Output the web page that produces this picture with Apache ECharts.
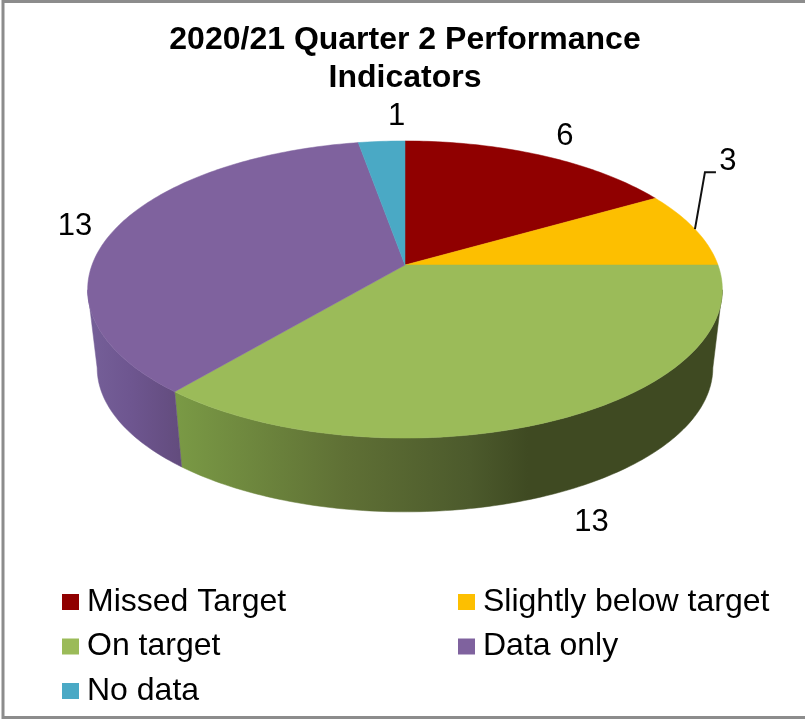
<!DOCTYPE html>
<html>
<head>
<meta charset="utf-8">
<style>
  html, body { margin: 0; padding: 0; background: #fff; }
  #main { width: 805px; height: 721px; }
</style>
<script src="https://cdn.jsdelivr.net/npm/echarts@6/dist/echarts.min.js"></script>
</head>
<body>
<div id="main"></div>
<script>
var categories = ['Missed Target', 'Slightly below target', 'On target', 'Data only', 'No data'];
var values = [6, 3, 13, 13, 1];
var colors = ['#900000', '#fdbf00', '#9bbb59', '#7f629e', '#4aa9c5'];
var titleText = '2020/21 Quarter 2 Performance\nIndicators';

var font = '"Liberation Sans", Arial, sans-serif';
var total = values.reduce(function (a, b) { return a + b; }, 0);

// pie geometry, fitted to the tilted perspective of the picture
var cx = 405, cy = 265, rx = 313, ry = 144.5, tilt = 0.165;
var wallScale = 0.97, wallY = 344;
var frontFrom = 99.6, frontTo = 260.4;

// where each value label sits relative to the middle of its rim arc
var labelOffsets = [[23, -19], [33, -68], [31, 103], [-40, -3], [15, -25]];
var leaderIndex = 1;

var wallFills = {
    2: [[175, '#7a9a45'], [345, '#5f7035'], [470, '#4c5a2c'], [528, '#3f4a22'], [720, '#3f4a22']],
    3: [[95, '#745e97'], [130, '#6e5690'], [179, '#634c7e']]
};

function rimPoint(deg, lower) {
    var t = deg * Math.PI / 180;
    var u = Math.sin(t), v = -Math.cos(t);
    var w = 1 - tilt * v;
    var dx = rx * u / w, dy = ry * v / w;
    if (lower) return [cx + wallScale * dx, wallY + wallScale * dy];
    return [cx + dx, cy + dy];
}

function arcPoints(from, to, lower) {
    var pts = [];
    for (var a = from; a < to; a += 1) pts.push(rimPoint(a, lower));
    pts.push(rimPoint(to, lower));
    return pts;
}

function wallGradient(index) {
    var stops = wallFills[index];
    if (!stops) return colors[index];
    var x0 = stops[0][0], x1 = stops[stops.length - 1][0];
    return {
        type: 'linear', global: true, x: x0, y: 0, x2: x1, y2: 0,
        colorStops: stops.map(function (s) {
            return { offset: (s[0] - x0) / (x1 - x0), color: s[1] };
        })
    };
}

function renderSlice(index, params, api) {
    var before = 0;
    for (var i = 0; i < index; i++) before += values[i];
    var start = before / total * 360;
    var end = (before + api.value(0)) / total * 360;
    var children = [];

    // side wall, only the part facing the viewer
    var wallFrom = Math.max(start, frontFrom), wallTo = Math.min(end, frontTo);
    if (wallTo > wallFrom) {
        var fill = wallGradient(index);
        children.push({
            type: 'polygon', z2: 1,
            shape: { points: arcPoints(wallFrom, wallTo, false).concat(arcPoints(wallFrom, wallTo, true).reverse()) },
            style: { fill: fill, stroke: fill, lineWidth: 0.5 }
        });
    }

    // top face
    children.push({
        type: 'polygon', z2: 2,
        shape: { points: [[cx, cy]].concat(arcPoints(start, end, false)) },
        style: { fill: colors[index], stroke: colors[index], lineWidth: 0.5 }
    });

    // value label
    var mid = rimPoint((start + end) / 2, false);
    var off = labelOffsets[index];
    children.push({
        type: 'text', z2: 4,
        x: mid[0] + off[0], y: mid[1] + off[1],
        style: {
            text: String(api.value(0)), fill: '#000', font: '31px ' + font,
            align: 'center', verticalAlign: 'middle'
        }
    });

    if (index === leaderIndex) {
        children.push({
            type: 'polyline', z2: 3,
            shape: { points: [mid, [mid[0] + 10, mid[1] - 57], [mid[0] + 21, mid[1] - 57]] },
            style: { fill: 'none', stroke: '#111', lineWidth: 2 }
        });
    }

    return { type: 'group', children: children };
}

var legendText = { fontFamily: font, fontSize: 32, color: '#000', lineHeight: 32, padding: [6, 0, 0, 3] };

function makeLegend(names, left) {
    return {
        data: names, orient: 'vertical', left: left, top: 583,
        icon: 'rect', itemWidth: 17, itemHeight: 16, itemGap: 6.5,
        padding: 0, selectedMode: false, textStyle: legendText
    };
}

var chart = echarts.init(document.getElementById('main'), null, { renderer: 'canvas' });

chart.setOption({
    animation: false,
    backgroundColor: '#fff',
    title: {
        text: titleText, left: 400, top: 16, textAlign: 'center',
        textStyle: { fontFamily: font, fontSize: 32, fontWeight: 'bold', color: '#000', lineHeight: 38 }
    },
    legend: [
        makeLegend([categories[0], categories[2], categories[4]], 62),
        makeLegend([categories[1], categories[3]], 458)
    ],
    graphic: [{
        type: 'rect', silent: true,
        shape: { x: 3, y: 1.5, width: 900, height: 716 },
        style: { fill: 'none', stroke: '#8c8c8c', lineWidth: 3 }
    }],
    series: categories.map(function (name, i) {
        return {
            type: 'custom', name: name, coordinateSystem: 'none',
            itemStyle: { color: colors[i] },
            silent: true,
            renderItem: function (params, api) { return renderSlice(i, params, api); },
            data: [values[i]]
        };
    })
});
</script>
</body>
</html>
